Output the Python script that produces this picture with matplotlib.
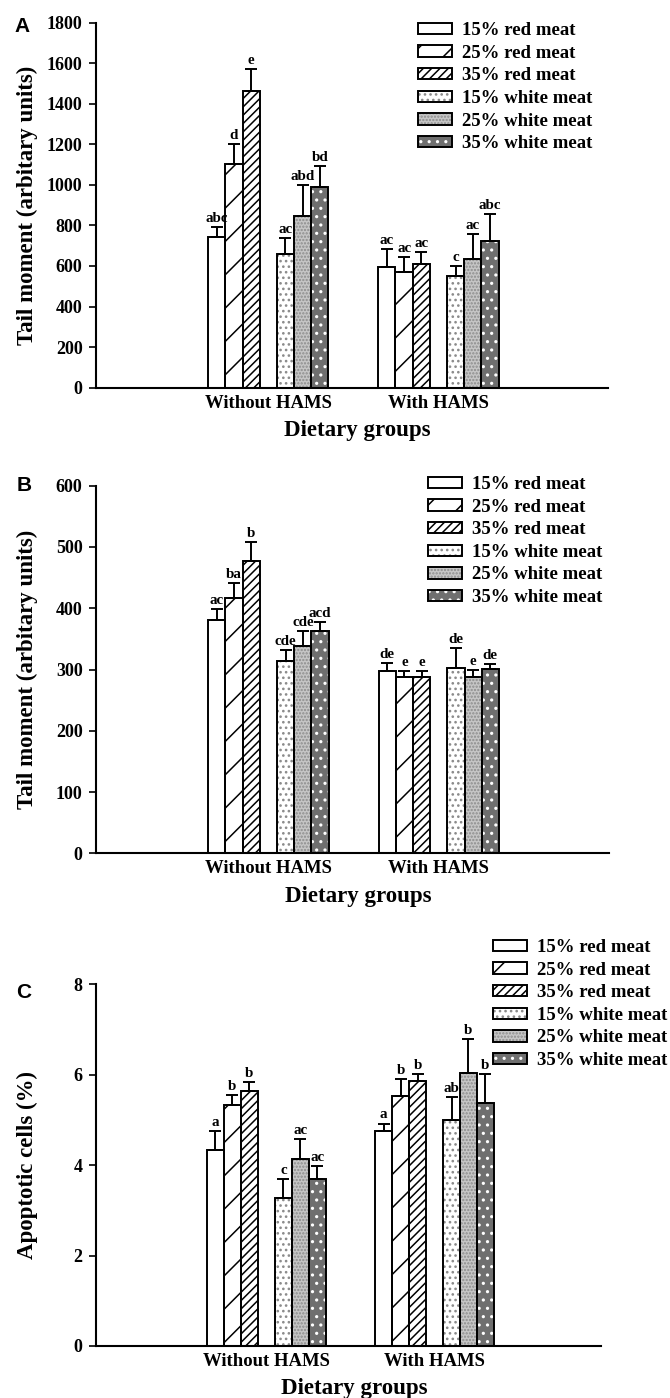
import numpy as np
import matplotlib
matplotlib.use('Agg')
import matplotlib.pyplot as plt
from matplotlib.patches import Patch

# ---------------- data ----------------
groups = ['Without HAMS', 'With HAMS']
series = ['15% red meat', '25% red meat', '35% red meat',
          '15% white meat', '25% white meat', '35% white meat']

# panel A - tail moment (rows = groups, cols = series)
tail_a = [[745, 1105, 1465, 657, 845, 990],
          [593, 572, 611, 551, 636, 725]]
tail_a_err = [[45, 95, 105, 79, 154, 101],
              [89, 72, 56, 51, 120, 131]]
tail_a_sig = [['abc', 'd', 'e', 'ac', 'abd', 'bd'],
              ['ac', 'ac', 'ac', 'c', 'ac', 'abc']]

# panel B - tail moment
tail_b = [[380, 417, 477, 314, 339, 363],
          [297, 287, 287, 303, 287, 301]]
tail_b_err = [[18, 24, 31, 18, 24, 14],
              [13, 10, 11, 32, 12, 8]]
tail_b_sig = [['ac', 'ba', 'b', 'cde', 'cde', 'acd'],
              ['de', 'e', 'e', 'de', 'e', 'de']]

# panel C - apoptotic cells
apop_c = [[4.34, 5.34, 5.63, 3.27, 4.14, 3.69],
          [4.76, 5.52, 5.86, 5.01, 6.03, 5.38]]
apop_c_err = [[0.42, 0.21, 0.21, 0.42, 0.44, 0.30],
              [0.16, 0.38, 0.15, 0.50, 0.75, 0.63]]
apop_c_sig = [['a', 'b', 'b', 'c', 'ac', 'ac'],
              ['a', 'b', 'b', 'ab', 'b', 'b']]

# ---------------- styles ----------------
plt.rcParams['font.family'] = ['Liberation Serif', 'DejaVu Serif']
plt.rcParams['font.weight'] = 'bold'
plt.rcParams['hatch.linewidth'] = 1.1

# (facecolor, hatch, hatch colour) per series
styles = [('white', None, 'black'),
          ('white', '/', 'black'),
          ('white', '////', 'black'),
          ('white', '...', '#8a8a8a'),
          ('#c6c6c6', '.....', '#8c8c8c'),
          ('#6f6f6f', '..', 'white')]

group_x = np.array([10.0, 19.9])
offsets = [-3, -2, -1, 1, 2, 3]

DPI = 100
fig = plt.figure(figsize=(670 / DPI, 1398 / DPI), dpi=DPI)


def draw_panel(rect, xmax, vals, errs, sigs, ymax, ystep, ylabel, letter,
               letter_xy, legend_xy):
    ax = fig.add_axes(rect)
    vals = np.array(vals)
    errs = np.array(errs)
    for j in range(len(series)):
        face, hatch, hcol = styles[j]
        x = group_x + offsets[j]
        ax.bar(x, vals[:, j], width=1.0, color=face, hatch=hatch,
               edgecolor=hcol, linewidth=0, zorder=2)
        ax.bar(x, vals[:, j], width=1.0, fill=False, edgecolor='black',
               linewidth=1.4, zorder=3)
        ax.errorbar(x, vals[:, j], yerr=[np.zeros(len(x)), errs[:, j]],
                    fmt='none', ecolor='black', elinewidth=1.4,
                    capsize=4, capthick=1.4, zorder=4)
        for g in range(len(groups)):
            ax.annotate(sigs[g][j], xy=(x[g], vals[g, j] + errs[g, j]),
                        xytext=(0, 1.5), textcoords='offset points',
                        ha='center', va='bottom', fontsize=10.8,
                        fontweight='bold')

    ax.set_xlim(0, xmax)
    ax.set_ylim(0, ymax)
    ax.set_yticks(np.arange(0, ymax + ystep / 2, ystep))
    ax.set_xticks(group_x)
    ax.set_xticklabels(groups, fontsize=13.5, fontweight='bold')
    ax.tick_params(axis='x', length=0, pad=5)
    ax.tick_params(axis='y', direction='out', length=5, width=1.2,
                   labelsize=13, pad=5)
    for lab in ax.get_yticklabels():
        lab.set_fontweight('bold')
    for side in ['top', 'right']:
        ax.spines[side].set_visible(False)
    for side in ['left', 'bottom']:
        ax.spines[side].set_linewidth(1.5)

    ax.set_ylabel(ylabel, fontsize=16.5, fontweight='bold')
    ax.yaxis.set_label_coords(-0.115, 0.5)
    ax.set_xlabel('Dietary groups', fontsize=16.5, fontweight='bold')
    ax.xaxis.set_label_coords(0.51, -0.088)

    # legend with hatch colours kept
    handles = []
    for face, hatch, hcol in styles:
        handles.append((Patch(facecolor=face, hatch=hatch, edgecolor=hcol,
                              linewidth=0),
                        Patch(fill=False, edgecolor='black', linewidth=1.4)))
    ax.legend(handles, series, loc='upper left',
              bbox_to_anchor=legend_xy, bbox_transform=fig.transFigure,
              frameon=False, borderpad=0, borderaxespad=0,
              handlelength=1.8, handleheight=0.55, handletextpad=0.55,
              labelspacing=0.3, prop={'size': 13.5, 'weight': 'bold'})

    fig.text(letter_xy[0], letter_xy[1], letter, family='Liberation Sans',
             fontsize=15, fontweight='bold', ha='center', va='center')
    return ax


draw_panel([0.144, 0.7227, 0.763, 0.2611], 29.75, tail_a, tail_a_err,
           tail_a_sig, 1800, 200, 'Tail moment (arbitary units)', 'A',
           (22 / 670, 1 - 27 / 1398), (418 / 670, 1 - 22 / 1398))

draw_panel([0.144, 0.3896, 0.765, 0.2630], 29.8, tail_b, tail_b_err,
           tail_b_sig, 600, 100, 'Tail moment (arbitary units)', 'B',
           (24 / 670, 1 - 486 / 1398), (428 / 670, 1 - 476 / 1398))

draw_panel([0.144, 0.0372, 0.753, 0.2587], 29.7, apop_c, apop_c_err,
           apop_c_sig, 8, 2, 'Apoptotic cells (%)', 'C',
           (24 / 670, 1 - 992 / 1398), (493 / 670, 1 - 939 / 1398))

fig.savefig('out.png', dpi=DPI)
